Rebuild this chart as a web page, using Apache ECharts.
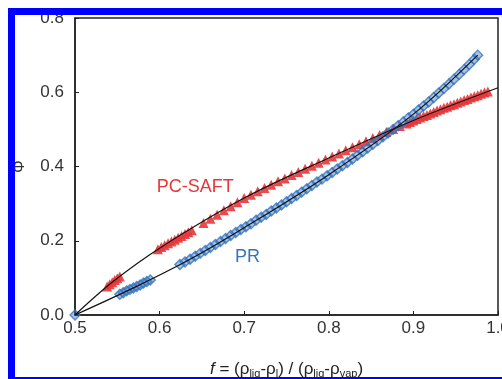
<!DOCTYPE html>
<html>
<head>
<meta charset="utf-8">
<script src="https://cdn.jsdelivr.net/npm/echarts@6/dist/echarts.min.js"></script>
<style>
  html, body {margin: 0; padding: 0; background: #fff;}
  #chart {width: 502px; height: 379px;}
</style>
</head>
<body>
<div id="chart"></div>
<script>
// ticks
const xTicks = [0.5, 0.6, 0.7, 0.8, 0.9, 1.0];
const yTicks = [0.0, 0.2, 0.4, 0.6, 0.8];

// PC-SAFT points (red triangles), [f, phi]
const saftPoints = [
  [0.538, 0.077], [0.541, 0.083], [0.544, 0.088], [0.547, 0.094], [0.550, 0.099], [0.553, 0.104],
  [0.598, 0.177], [0.602, 0.183], [0.606, 0.188], [0.610, 0.193], [0.614, 0.198], [0.618, 0.203],
  [0.622, 0.208], [0.626, 0.213], [0.630, 0.218], [0.634, 0.223], [0.638, 0.228],
  [0.652, 0.248], [0.660, 0.259], [0.668, 0.270], [0.676, 0.282], [0.684, 0.293], [0.692, 0.304],
  [0.700, 0.315], [0.708, 0.324], [0.716, 0.333], [0.724, 0.342], [0.732, 0.351], [0.740, 0.360],
  [0.748, 0.368], [0.756, 0.377], [0.764, 0.385], [0.772, 0.394], [0.780, 0.402], [0.788, 0.410],
  [0.796, 0.419], [0.804, 0.427], [0.812, 0.435], [0.820, 0.444], [0.828, 0.452], [0.836, 0.460],
  [0.844, 0.468], [0.852, 0.477], [0.860, 0.485], [0.868, 0.493], [0.876, 0.501], [0.884, 0.509],
  [0.892, 0.516], [0.896, 0.520], [0.900, 0.524], [0.904, 0.528], [0.908, 0.532], [0.912, 0.536],
  [0.916, 0.539], [0.920, 0.543], [0.924, 0.547], [0.928, 0.551], [0.932, 0.554], [0.936, 0.558],
  [0.940, 0.561], [0.944, 0.565], [0.948, 0.568], [0.952, 0.572], [0.956, 0.575], [0.960, 0.579],
  [0.964, 0.582], [0.968, 0.586], [0.972, 0.589], [0.976, 0.592], [0.980, 0.596], [0.984, 0.599],
  [0.988, 0.602]
];

// PR points (blue diamonds), [f, phi]
const prPoints = [
  [0.500, 0.000],
  [0.553, 0.056], [0.557, 0.060], [0.561, 0.065], [0.565, 0.069], [0.569, 0.073], [0.573, 0.077],
  [0.577, 0.081], [0.581, 0.086], [0.585, 0.090], [0.589, 0.094],
  [0.624, 0.136], [0.630, 0.143], [0.636, 0.150], [0.642, 0.158], [0.648, 0.166], [0.654, 0.174],
  [0.660, 0.182], [0.666, 0.190], [0.672, 0.198], [0.678, 0.206], [0.684, 0.214], [0.690, 0.222],
  [0.696, 0.230], [0.702, 0.238], [0.708, 0.246], [0.714, 0.255], [0.720, 0.263], [0.726, 0.271],
  [0.732, 0.280], [0.738, 0.288], [0.744, 0.296], [0.750, 0.305], [0.756, 0.314], [0.762, 0.322],
  [0.768, 0.331], [0.774, 0.340], [0.780, 0.349], [0.786, 0.358], [0.792, 0.366], [0.798, 0.375],
  [0.804, 0.384], [0.810, 0.393], [0.816, 0.402], [0.822, 0.411], [0.828, 0.420], [0.834, 0.430],
  [0.840, 0.440], [0.846, 0.450], [0.852, 0.460], [0.858, 0.470], [0.864, 0.480], [0.870, 0.490],
  [0.876, 0.500], [0.882, 0.510], [0.888, 0.520], [0.894, 0.531], [0.900, 0.541], [0.906, 0.552],
  [0.912, 0.563], [0.918, 0.574], [0.924, 0.586], [0.930, 0.598], [0.936, 0.610], [0.942, 0.622],
  [0.948, 0.635], [0.954, 0.648], [0.960, 0.661], [0.966, 0.675], [0.972, 0.689], [0.976, 0.700]
];

// fitted curves (black lines)
const saftCurve = [[0.5, 0], [0.545, 0.09], [0.6, 0.18], [0.7, 0.315], [0.8, 0.423], [0.9, 0.524], [1.0, 0.612]];
const prCurve = [[0.5, 0], [0.571, 0.075], [0.636, 0.15], [0.7, 0.235], [0.8, 0.378], [0.9, 0.541], [0.976, 0.70]];

// label anchors in data units
const saftLabelAt = [0.642, 0.345];
const prLabelAt = [0.704, 0.156];

const RED = '#e5363a';
const BLUE = '#3573c0';
const font = 'Liberation Sans, Arial, sans-serif';

const chart = echarts.init(document.getElementById('chart'));

chart.setOption({
  animation: false,
  backgroundColor: '#fff',
  grid: {
    left: 75, right: 4, top: 18, bottom: 64,
    outerBoundsMode: 'none',
    containLabel: false,
    show: true, borderColor: '#222', borderWidth: 1.5
  },
  xAxis: {
    type: 'value',
    min: xTicks[0], max: xTicks[xTicks.length - 1], interval: 0.1,
    name: '{i|f} = ({t|ρ}{s|liq}{t|-ρ}{s|l}{t|) / (ρ}{s|liq}{t|-ρ}{s|vap}{t|)}',
    nameLocation: 'middle',
    nameGap: 45,
    nameTextStyle: {
      color: '#222', fontFamily: font, fontSize: 17,
      rich: {
        i: {fontStyle: 'italic', fontSize: 17, fontFamily: font, color: '#222'},
        t: {fontSize: 17, fontFamily: font, color: '#222'},
        s: {fontSize: 11, fontFamily: font, color: '#222', verticalAlign: 'bottom', padding: [8, 0, 0, 0]}
      }
    },
    axisLine: {lineStyle: {color: '#222', width: 1.5}},
    axisTick: {inside: true, length: 4, lineStyle: {color: '#222'}},
    splitLine: {show: false},
    axisLabel: {
      color: '#333', fontFamily: font, fontSize: 17, margin: 5,
      formatter: v => v.toFixed(1)
    }
  },
  yAxis: {
    type: 'value',
    min: yTicks[0], max: yTicks[yTicks.length - 1], interval: 0.2,
    name: 'Φ',
    nameLocation: 'middle',
    nameGap: 47,
    nameRotate: 90,
    nameTextStyle: {color: '#333', fontFamily: font, fontSize: 16},
    axisLine: {lineStyle: {color: '#222', width: 1.5}},
    axisTick: {inside: true, length: 4, lineStyle: {color: '#222'}},
    splitLine: {show: false},
    axisLabel: {
      color: '#333', fontFamily: font, fontSize: 17, margin: 11,
      formatter: v => v.toFixed(1)
    }
  },
  series: [
    {
      name: 'PC-SAFT', type: 'scatter', data: saftPoints,
      symbol: 'triangle', symbolSize: 10,
      itemStyle: {color: RED, opacity: 0.9},
      z: 2
    },
    {
      name: 'PR', type: 'scatter', data: prPoints,
      symbol: 'diamond', symbolSize: 10,
      itemStyle: {color: 'rgba(53,115,192,0.55)', borderColor: BLUE, borderWidth: 1.4},
      z: 2
    },
    {
      type: 'line', data: saftCurve, smooth: 0.35, symbol: 'none',
      lineStyle: {color: '#111', width: 1.2}, z: 3
    },
    {
      type: 'line', data: prCurve, smooth: 0.35, symbol: 'none',
      lineStyle: {color: '#111', width: 1.2}, z: 3
    }
  ]
});

const p1 = chart.convertToPixel({gridIndex: 0}, saftLabelAt);
const p2 = chart.convertToPixel({gridIndex: 0}, prLabelAt);

chart.setOption({
  graphic: [
    {
      type: 'text', x: p1[0], y: p1[1], z: 10,
      style: {text: 'PC-SAFT', fill: RED, font: '18px ' + font, align: 'center', verticalAlign: 'middle'}
    },
    {
      type: 'text', x: p2[0], y: p2[1], z: 10,
      style: {text: 'PR', fill: BLUE, font: '18px ' + font, align: 'center', verticalAlign: 'middle'}
    },
    {
      // blue frame of the figure
      type: 'rect', z: 100,
      shape: {x: 11.5, y: 11.5, width: 600, height: 369},
      style: {fill: 'none', stroke: '#0000ff', lineWidth: 7}
    }
  ]
});
</script>
</body>
</html>
